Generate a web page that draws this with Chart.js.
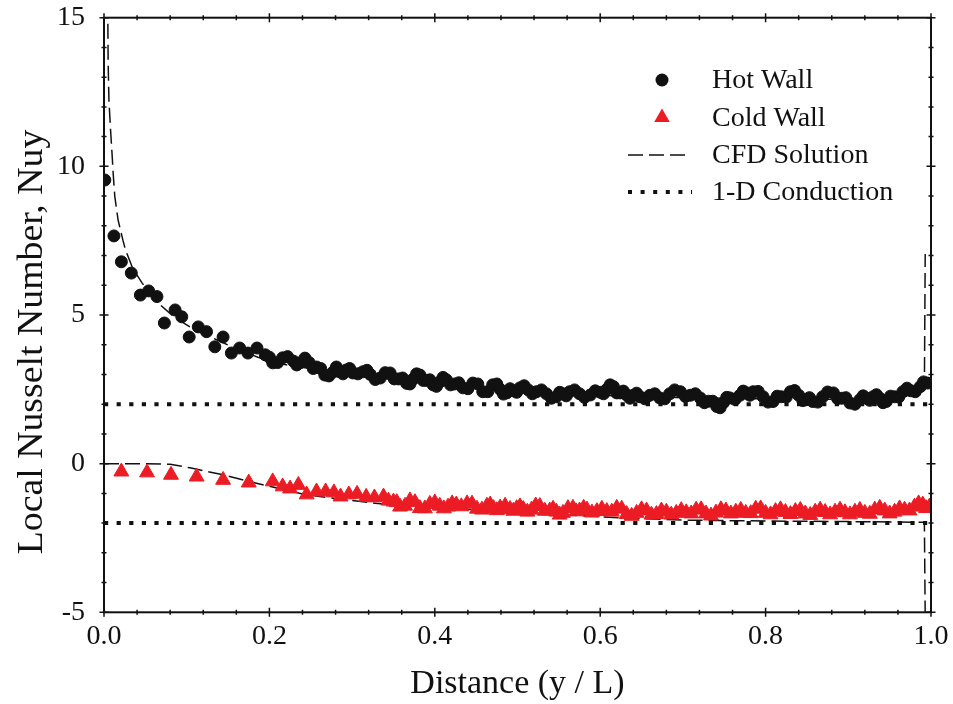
<!DOCTYPE html>
<html>
<head>
<meta charset="utf-8">
<style>
  html, body { margin: 0; padding: 0; background: #fff; }
  #c { display: block; }
</style>
<script src="https://cdn.jsdelivr.net/npm/chart.js@4.4.1/dist/chart.umd.min.js"></script>
</head>
<body>
<canvas id="c" width="953" height="704"></canvas>
<script>
// Local Nusselt number along the hot and cold walls of the cavity

const xTickValues = [0.0, 0.2, 0.4, 0.6, 0.8, 1.0];
const yTickValues = [-5, 0, 5, 10, 15];

// Measured, hot wall
const hotX = [0.001, 0.012, 0.021, 0.033, 0.044, 0.054, 0.064, 0.073, 0.086, 0.094,
  0.103, 0.114, 0.124, 0.134, 0.144, 0.154, 0.164, 0.174, 0.185, 0.195,
  0.200, 0.204, 0.210, 0.216, 0.222, 0.229, 0.233, 0.237, 0.243, 0.248,
  0.253, 0.257, 0.262, 0.267, 0.272, 0.277, 0.281, 0.285, 0.289, 0.293,
  0.297, 0.301, 0.307, 0.313, 0.318, 0.322, 0.328, 0.334, 0.340, 0.346,
  0.351, 0.356, 0.361, 0.366, 0.370, 0.374, 0.378, 0.382, 0.386, 0.390,
  0.394, 0.398, 0.402, 0.406, 0.410, 0.414, 0.419, 0.424, 0.429, 0.434,
  0.440, 0.446, 0.452, 0.458, 0.464, 0.470, 0.475, 0.479, 0.483, 0.487,
  0.491, 0.495, 0.499, 0.503, 0.508, 0.513, 0.518, 0.523, 0.529, 0.535,
  0.541, 0.547, 0.551, 0.555, 0.559, 0.563, 0.569, 0.575, 0.581, 0.588,
  0.594, 0.600, 0.604, 0.608, 0.612, 0.616, 0.620, 0.624, 0.628, 0.632,
  0.636, 0.640, 0.644, 0.648, 0.654, 0.660, 0.666, 0.672, 0.678, 0.684,
  0.690, 0.697, 0.703, 0.709, 0.715, 0.721, 0.726, 0.731, 0.736, 0.741,
  0.745, 0.749, 0.753, 0.757, 0.763, 0.769, 0.773, 0.777, 0.781, 0.785,
  0.791, 0.797, 0.803, 0.809, 0.814, 0.819, 0.825, 0.830, 0.835, 0.840,
  0.845, 0.849, 0.853, 0.857, 0.863, 0.869, 0.875, 0.882, 0.887, 0.892,
  0.897, 0.902, 0.908, 0.914, 0.918, 0.922, 0.926, 0.930, 0.934, 0.938,
  0.942, 0.946, 0.951, 0.956, 0.961, 0.966, 0.971, 0.976, 0.981, 0.987,
  0.991, 0.996];
const hotY = [9.54, 7.66, 6.79, 6.41, 5.67, 5.81, 5.62, 4.73, 5.17, 4.94,
  4.26, 4.60, 4.44, 3.93, 4.26, 3.72, 3.89, 3.72, 3.89, 3.66,
  3.58, 3.39, 3.40, 3.56, 3.60, 3.45, 3.32, 3.39, 3.55, 3.40,
  3.20, 3.25, 3.20, 2.98, 2.95, 3.08, 3.25, 3.09, 3.02, 3.15,
  3.20, 3.05, 3.02, 3.09, 3.14, 3.00, 2.83, 2.88, 3.06, 3.05,
  2.85, 2.85, 2.88, 2.70, 2.68, 2.85, 3.02, 2.98, 2.80, 2.80,
  2.82, 2.65, 2.60, 2.75, 2.90, 2.82, 2.65, 2.68, 2.72, 2.55,
  2.52, 2.71, 2.68, 2.42, 2.42, 2.65, 2.68, 2.50, 2.34, 2.38,
  2.52, 2.45, 2.40, 2.55, 2.62, 2.48, 2.35, 2.42, 2.48, 2.35,
  2.20, 2.25, 2.40, 2.35, 2.28, 2.42, 2.48, 2.35, 2.23, 2.31,
  2.45, 2.40, 2.35, 2.50, 2.65, 2.59, 2.38, 2.38, 2.44, 2.31,
  2.20, 2.30, 2.37, 2.25, 2.18, 2.30, 2.35, 2.21, 2.18, 2.35,
  2.48, 2.42, 2.26, 2.30, 2.35, 2.21, 2.05, 2.10, 2.10, 1.92,
  1.88, 2.05, 2.23, 2.21, 2.16, 2.30, 2.44, 2.38, 2.30, 2.42,
  2.43, 2.25, 2.07, 2.09, 2.27, 2.25, 2.24, 2.42, 2.46, 2.30,
  2.12, 2.15, 2.22, 2.09, 2.07, 2.25, 2.41, 2.38, 2.19, 2.20,
  2.22, 2.04, 2.00, 2.15, 2.28, 2.20, 2.13, 2.25, 2.32, 2.20,
  2.05, 2.09, 2.27, 2.25, 2.24, 2.42, 2.54, 2.45, 2.42, 2.59,
  2.75, 2.71];

// Measured, cold wall
const coldX = [0.021, 0.052, 0.081, 0.112, 0.144, 0.175,
  0.204, 0.216, 0.225, 0.235, 0.245, 0.257, 0.268, 0.278, 0.286, 0.296,
  0.306, 0.317, 0.327, 0.338, 0.344, 0.350, 0.354, 0.358, 0.364, 0.370,
  0.376, 0.382, 0.388, 0.394, 0.400, 0.406, 0.411, 0.416, 0.421, 0.426,
  0.432, 0.439, 0.445, 0.451, 0.457, 0.463, 0.467, 0.471, 0.475, 0.479,
  0.485, 0.491, 0.495, 0.499, 0.503, 0.507, 0.512, 0.517, 0.522, 0.527,
  0.533, 0.539, 0.543, 0.547, 0.551, 0.555, 0.561, 0.567, 0.571, 0.575,
  0.580, 0.584, 0.590, 0.596, 0.602, 0.608, 0.614, 0.620, 0.626, 0.632,
  0.638, 0.644, 0.650, 0.656, 0.662, 0.668, 0.674, 0.680, 0.686, 0.692,
  0.698, 0.704, 0.710, 0.716, 0.722, 0.728, 0.734, 0.740, 0.746, 0.752,
  0.758, 0.764, 0.770, 0.776, 0.782, 0.788, 0.794, 0.800, 0.806, 0.812,
  0.818, 0.824, 0.830, 0.836, 0.842, 0.848, 0.854, 0.860, 0.866, 0.872,
  0.878, 0.884, 0.890, 0.896, 0.902, 0.908, 0.914, 0.920, 0.926, 0.932,
  0.938, 0.944, 0.950, 0.956, 0.962, 0.968, 0.974, 0.980, 0.985, 0.990,
  0.994, 0.998];
const coldY = [-0.27, -0.30, -0.38, -0.44, -0.55, -0.64,
  -0.60, -0.77, -0.84, -0.72, -1.04, -0.94, -0.94, -0.97, -1.11, -1.04,
  -1.02, -1.12, -1.14, -1.11, -1.25, -1.28, -1.30, -1.45, -1.42, -1.24,
  -1.30, -1.50, -1.51, -1.36, -1.31, -1.42, -1.51, -1.45, -1.34, -1.38,
  -1.44, -1.34, -1.35, -1.52, -1.55, -1.42, -1.38, -1.50, -1.57, -1.48,
  -1.42, -1.53, -1.59, -1.50, -1.44, -1.53, -1.62, -1.55, -1.41, -1.43,
  -1.59, -1.58, -1.52, -1.62, -1.72, -1.66, -1.50, -1.49, -1.61, -1.58,
  -1.49, -1.55, -1.65, -1.60, -1.52, -1.60, -1.62, -1.49, -1.52, -1.70,
  -1.76, -1.66, -1.54, -1.58, -1.72, -1.70, -1.58, -1.62, -1.72, -1.66,
  -1.57, -1.64, -1.68, -1.55, -1.54, -1.68, -1.75, -1.65, -1.54, -1.58,
  -1.68, -1.62, -1.56, -1.66, -1.67, -1.52, -1.51, -1.66, -1.71, -1.60,
  -1.54, -1.63, -1.70, -1.60, -1.56, -1.68, -1.73, -1.62, -1.55, -1.63,
  -1.71, -1.62, -1.55, -1.64, -1.71, -1.62, -1.56, -1.66, -1.69, -1.55,
  -1.49, -1.58, -1.68, -1.62, -1.51, -1.55, -1.58, -1.45, -1.34, -1.38,
  -1.50, -1.45];

// CFD solution, hot wall
const cfdHotX = [0.0045, 0.005, 0.006, 0.008, 0.010, 0.011, 0.013, 0.017, 0.023, 0.026,
  0.035, 0.046, 0.057, 0.068, 0.085, 0.104, 0.120, 0.137, 0.153, 0.169,
  0.186, 0.203, 0.225, 0.245, 0.270, 0.300, 0.350, 0.400, 0.450, 0.500,
  0.550, 0.600, 0.650, 0.700, 0.750, 0.800, 0.850, 0.900, 0.950, 0.975,
  0.985, 0.992, 0.993];
const cfdHotY = [15.5, 13.5, 12.2, 11.2, 10.3, 9.8, 9.0, 8.2, 7.5, 7.19,
  6.55, 6.08, 5.68, 5.34, 4.93, 4.60, 4.36, 4.16, 3.95, 3.77,
  3.58, 3.43, 3.30, 3.22, 3.10, 2.98, 2.82, 2.67, 2.54, 2.44,
  2.36, 2.30, 2.25, 2.22, 2.20, 2.18, 2.17, 2.17, 2.20, 2.30,
  2.40, 2.55, 7.05];

// CFD solution, cold wall
const cfdColdX = [0.000, 0.040, 0.080, 0.104, 0.145, 0.177, 0.209, 0.245, 0.289, 0.337,
  0.400, 0.475, 0.556, 0.624, 0.700, 0.800, 0.900, 0.992, 0.993];
const cfdColdY = [0.00, 0.00, -0.02, -0.14, -0.38, -0.61, -0.82, -1.05, -1.20, -1.36,
  -1.48, -1.58, -1.72, -1.82, -1.90, -1.93, -1.95, -1.97, -5.2];

// 1-D conduction limits
const condX = [0, 1];
const condHotY = [2, 2];
const condColdY = [-2, -2];

const RED = '#ec1c24';
const INK = '#111111';
const SERIF = '"Liberation Serif", "Times New Roman", serif';
const Y_TITLE = 'Local Nusselt Number, Nuy';

const pts = (xs, ys) => xs.map((x, i) => ({ x: x, y: ys[i] }));

const CFD_DASH = [15, 6];
const COND_DASH = [4.2, 8.4];

// Boxed frame with ticks crossing every side
const framePlugin = {
  id: 'frame',
  afterDatasetsDraw(chart) {
    const { ctx, chartArea: a, scales } = chart;
    const xs = scales.x, ys = scales.y;
    ctx.save();
    ctx.strokeStyle = INK;
    ctx.lineWidth = 1.5;
    ctx.beginPath();
    for (let i = 0; i <= 25; i++) {
      const v = i * 0.04;
      const px = xs.getPixelForValue(v);
      const h = (i % 5 === 0) ? 4.5 : 2.5;
      ctx.moveTo(px, a.bottom - h); ctx.lineTo(px, a.bottom + h);
      ctx.moveTo(px, a.top - h); ctx.lineTo(px, a.top + h);
    }
    for (let v = -5; v <= 15; v++) {
      const py = ys.getPixelForValue(v);
      const h = (v % 5 === 0) ? 4.5 : 2.5;
      ctx.moveTo(a.left - h, py); ctx.lineTo(a.left + h, py);
      ctx.moveTo(a.right - h, py); ctx.lineTo(a.right + h, py);
    }
    ctx.stroke();
    ctx.lineWidth = 2;
    ctx.strokeRect(a.left, a.top, a.right - a.left, a.bottom - a.top);
    ctx.restore();
  }
};

// Key in the upper right of the plot, plus the vertical axis title
const keyPlugin = {
  id: 'key',
  afterDraw(chart) {
    const { ctx } = chart;
    const symX = 662, textX = 712;
    const rows = [80, 117.5, 155, 192];
    const labels = chart.data.datasets.slice(0, 4).map(d => d.label);
    ctx.save();
    // circle
    ctx.fillStyle = INK;
    ctx.beginPath(); ctx.arc(symX, rows[0], 6.5, 0, Math.PI * 2); ctx.fill();
    // triangle
    const r = 9;
    ctx.fillStyle = RED;
    ctx.beginPath();
    ctx.moveTo(symX, rows[1] - r);
    ctx.lineTo(symX + r * Math.sin(2 * Math.PI / 3), rows[1] + r / 2);
    ctx.lineTo(symX - r * Math.sin(2 * Math.PI / 3), rows[1] + r / 2);
    ctx.closePath(); ctx.fill();
    // dashed
    ctx.strokeStyle = INK;
    ctx.lineWidth = 1.5;
    ctx.setLineDash(CFD_DASH);
    ctx.beginPath(); ctx.moveTo(628, rows[2]); ctx.lineTo(691, rows[2]); ctx.stroke();
    // dotted
    ctx.lineWidth = 4;
    ctx.setLineDash([4, 8.6]);
    ctx.beginPath(); ctx.moveTo(628, rows[3]); ctx.lineTo(692, rows[3]); ctx.stroke();
    ctx.setLineDash([]);
    ctx.fillStyle = INK;
    ctx.font = '28px ' + SERIF;
    ctx.textBaseline = 'middle';
    ctx.textAlign = 'left';
    labels.forEach((t, i) => ctx.fillText(t, textX, rows[i] + 1));
    // vertical axis title
    ctx.translate(33, 342);
    ctx.rotate(-Math.PI / 2);
    ctx.scale(1.08, 1);
    ctx.font = '35px ' + SERIF;
    ctx.textAlign = 'center';
    ctx.fillText(Y_TITLE, 0, 0);
    ctx.restore();
  }
};

new Chart(document.getElementById('c'), {
  type: 'scatter',
  data: {
    datasets: [
      { label: 'Hot Wall', data: pts(hotX, hotY), pointStyle: 'circle',
        pointRadius: 6, pointBorderWidth: 1, backgroundColor: INK, borderColor: INK },
      { label: 'Cold Wall', data: pts(coldX, coldY), pointStyle: 'triangle',
        pointRadius: 8.6, pointBorderWidth: 1, backgroundColor: RED, borderColor: RED },
      { label: 'CFD Solution', data: pts(cfdHotX, cfdHotY), showLine: true, pointRadius: 0,
        borderColor: INK, borderWidth: 1.5, borderDash: CFD_DASH, tension: 0 },
      { label: '1-D Conduction', data: pts(condX, condHotY), showLine: true, pointRadius: 0,
        borderColor: INK, borderWidth: 4, borderDash: COND_DASH, borderCapStyle: 'butt' },
      { label: 'CFD Solution (cold)', data: pts(cfdColdX, cfdColdY), showLine: true, pointRadius: 0,
        borderColor: INK, borderWidth: 1.5, borderDash: CFD_DASH, tension: 0 },
      { label: '1-D Conduction (cold)', data: pts(condX, condColdY), showLine: true, pointRadius: 0,
        borderColor: INK, borderWidth: 4, borderDash: COND_DASH, borderCapStyle: 'butt' }
    ]
  },
  options: {
    responsive: false,
    animation: false,
    events: [],
    layout: { padding: { top: 17.7, right: 22, left: 0, bottom: 0 } },
    plugins: { legend: { display: false }, tooltip: { enabled: false } },
    scales: {
      x: {
        type: 'linear', position: 'bottom', min: 0, max: 1,
        border: { display: false },
        grid: { display: false, drawTicks: false },
        afterBuildTicks: s => { s.ticks = xTickValues.map(v => ({ value: v })); },
        ticks: { padding: 8, color: INK, font: { family: SERIF, size: 28 },
                 callback: v => Number(v).toFixed(1) },
        title: { display: true, text: 'Distance (y / L)', color: INK,
                 font: { family: SERIF, size: 34 }, padding: { top: 0, bottom: 0 } },
        afterFit: s => { s.height = 91.7; s.paddingLeft = 0; s.paddingRight = 0; }
      },
      y: {
        type: 'linear', position: 'left', min: -5, max: 15,
        border: { display: false },
        grid: { display: false, drawTicks: false },
        afterBuildTicks: s => { s.ticks = yTickValues.map(v => ({ value: v })); },
        ticks: { padding: 19, color: INK, font: { family: SERIF, size: 28 },
                 callback: v => String(v) },
        title: { display: false, text: Y_TITLE },
        afterFit: s => { s.width = 104; s.paddingTop = 0; s.paddingBottom = 0; }
      }
    }
  },
  plugins: [framePlugin, keyPlugin]
});
</script>
</body>
</html>
